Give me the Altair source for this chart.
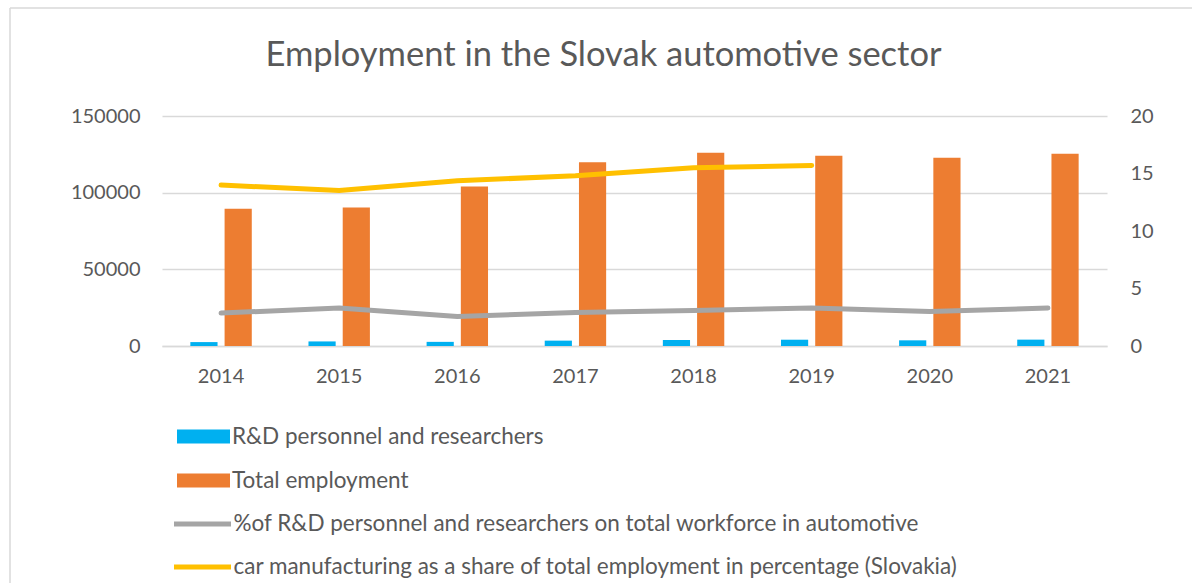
import altair as alt
import pandas as pd

years = ["2014", "2015", "2016", "2017", "2018", "2019", "2020", "2021"]
rd_personnel = [2550, 2980, 2700, 3500, 3900, 4100, 3700, 4150]
total_employment = [89500, 90300, 104000, 119900, 126100, 124100, 122800, 125400]
pct_rd = [2.86, 3.30, 2.57, 2.91, 3.09, 3.30, 3.00, 3.30]
car_share_years = ["2014", "2015", "2016", "2017", "2018", "2019"]
car_share = [13.99, 13.52, 14.37, 14.80, 15.50, 15.70]

bar_names = ["R&D personnel and researchers", "Total employment"]
line_names = ["%of R&D personnel and researchers on total workforce in automotive",
              "car manufacturing as a share of total employment  in percentage (Slovakia)"]

BLUE, ORANGE, GRAY, YELLOW = "#00B0F0", "#ED7D31", "#A5A5A5", "#FFC000"
TXT = "#595959"
FONT = "Lato"

bars_df = pd.DataFrame(
    [{"year": y, "series": bar_names[0], "value": v} for y, v in zip(years, rd_personnel)]
    + [{"year": y, "series": bar_names[1], "value": v} for y, v in zip(years, total_employment)]
)
lines_df = pd.DataFrame(
    [{"year": y, "series": line_names[0], "value": v} for y, v in zip(years, pct_rd)]
    + [{"year": y, "series": line_names[1], "value": v} for y, v in zip(car_share_years, car_share)]
)

x_enc = alt.X("year:N", sort=years,
              scale=alt.Scale(domain=years, paddingInner=0.48, paddingOuter=0.24),
              axis=alt.Axis(title=None, labelAngle=0, ticks=False, labelPadding=20,
                            domainColor="#D9D9D9", domainWidth=1.5))

bars = alt.Chart(bars_df).mark_bar().encode(
    x=x_enc,
    xOffset=alt.XOffset("series:N", sort=bar_names,
                        scale=alt.Scale(domain=bar_names, paddingInner=0.206, paddingOuter=0)),
    y=alt.Y("value:Q", scale=alt.Scale(domain=[0, 150000], nice=False),
            axis=alt.Axis(title=None, orient="left", values=[0, 50000, 100000, 150000],
                          format="d", ticks=False, domain=False, labelPadding=22,
                          grid=True, gridColor="#D9D9D9", gridWidth=1.5)),
    fill=alt.Fill("series:N", sort=bar_names,
                  scale=alt.Scale(domain=bar_names, range=[BLUE, ORANGE]),
                  legend=alt.Legend(title=None, orient="none", legendX=15, legendY=294,
                                    symbolType="M-1,-0.26H1V0.26H-1Z", symbolSize=2809,
                                    symbolStrokeWidth=0, rowPadding=6, labelOffset=2)),
)

lines = alt.Chart(lines_df).mark_line(strokeWidth=5, strokeCap="round", strokeJoin="round").encode(
    x=alt.X("year:N", sort=years),
    y=alt.Y("value:Q", scale=alt.Scale(domain=[0, 20], nice=False),
            axis=alt.Axis(title=None, orient="right", values=[0, 5, 10, 15, 20],
                          ticks=False, domain=False, grid=False, labelPadding=23)),
    stroke=alt.Stroke("series:N", sort=line_names,
                      scale=alt.Scale(domain=line_names, range=[GRAY, YELLOW]),
                      legend=alt.Legend(title=None, orient="none", legendX=9.5, legendY=377,
                                        symbolType="stroke", symbolSize=3249,
                                        symbolStrokeWidth=5, rowPadding=0, labelOffset=0)),
)

border = alt.Chart(alt.Data(values=[{}])).mark_rule(color="#D9D9D9", strokeWidth=1.5).encode(
    x=alt.value(-152), x2=alt.value(1040), y=alt.value(-108)
)
border_left = alt.Chart(alt.Data(values=[{}])).mark_rule(color="#D9D9D9", strokeWidth=1.5).encode(
    x=alt.value(-152), y=alt.value(-108), y2=alt.value(480)
)

chart = alt.layer(border, border_left, bars, lines).resolve_scale(
    y="independent", fill="independent", stroke="independent"
).properties(
    width=945, height=230,
    title=alt.TitleParams(text="Employment in the Slovak automotive sector", fontSize=34.5,
                          font=FONT, fontWeight="normal", color=TXT, anchor="middle",
                          frame="group", dx=-31, offset=0, dy=66),
    autosize=alt.AutoSizeParams(type="none"),
    padding={"left": 162, "top": 116, "right": 85, "bottom": 237},
).configure_view(stroke=None).configure_axis(
    labelFont=FONT, labelFontSize=20, labelColor=TXT
).configure_legend(
    labelFont=FONT, labelFontSize=22.5, labelColor=TXT, labelLimit=900
)

chart.save("out.html", embed_options={"renderer": "svg", "actions": False})
